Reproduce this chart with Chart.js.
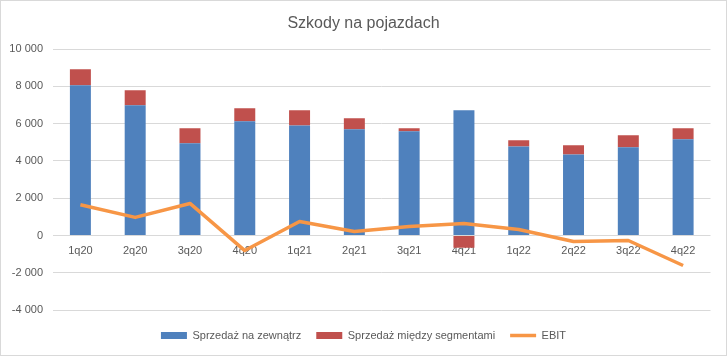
<!DOCTYPE html>
<html>
<head>
<meta charset="utf-8">
<script src="https://cdn.jsdelivr.net/npm/chart.js@4"></script>
<style>
  html, body { margin: 0; padding: 0; background: #fff; }
  #wrap { width: 727px; height: 356px; box-sizing: border-box; border: 1px solid #d9d9d9; position: relative; }
  #wrap canvas { display: block; }
</style>
</head>
<body>
<div id="wrap"><canvas id="c" width="725" height="354"></canvas></div>
<script>
const categories = ['1q20', '2q20', '3q20', '4q20', '1q21', '2q21', '3q21', '4q21', '1q22', '2q22', '3q22', '4q22'];
const salesExternal = [8060, 6990, 4950, 6130, 5910, 5700, 5590, 6720, 4780, 4350, 4730, 5160];
const salesInterSegment = [860, 810, 800, 700, 810, 590, 160, -660, 330, 490, 650, 590];
const ebit = [1650, 970, 1720, -810, 750, 210, 480, 640, 320, -320, -270, -1610];
const yTicks = [-4000, -2000, 0, 2000, 4000, 6000, 8000, 10000];

const textColor = '#595959';
const font = 'Liberation Sans, Arial, sans-serif';

function fmt(v) {
  const s = Math.abs(v).toString().replace(/\B(?=(\d{3})+(?!\d))/g, ' ');
  return (v < 0 ? '-' : '') + s;
}

new Chart(document.getElementById('c'), {
  type: 'bar',
  data: {
    labels: categories,
    datasets: [
      { label: 'Sprzedaż na zewnątrz', data: salesExternal, backgroundColor: '#4f81bd', borderWidth: 0,
        stack: 's', categoryPercentage: 1, barPercentage: 0.383, pointStyle: 'rect', order: 1 },
      { label: 'Sprzedaż między segmentami', data: salesInterSegment, backgroundColor: '#c0504d', borderWidth: 0,
        stack: 's', categoryPercentage: 1, barPercentage: 0.383, pointStyle: 'rect', order: 1 },
      { label: 'EBIT', type: 'line', data: ebit, borderColor: '#f79646', backgroundColor: '#f79646',
        borderWidth: 3.5, borderJoinStyle: 'round', pointRadius: 0, tension: 0, pointStyle: 'line', order: -1, fill: false }
    ]
  },
  options: {
    responsive: false,
    animation: false,
    devicePixelRatio: 1,
    layout: { padding: { left: 0, right: 0, top: 0, bottom: 4 } },
    plugins: {
      title: {
        display: true, text: 'Szkody na pojazdach', color: textColor,
        font: { family: font, size: 16, weight: 'normal' },
        padding: { top: 13, bottom: 16 }
      },
      legend: {
        position: 'bottom',
        title: { display: true, text: '', font: { family: font, size: 5, lineHeight: 1 }, padding: 0 },
        labels: {
          color: textColor, font: { family: font, size: 11 },
          usePointStyle: true, pointStyleWidth: 26, boxHeight: 7, padding: 15,
          sort: (a, b) => a.datasetIndex - b.datasetIndex
        }
      },
      tooltip: { enabled: false }
    },
    scales: {
      x: {
        position: { y: 0 },
        stacked: true,
        afterFit: (scale) => { scale.height = 0; scale.paddingRight = 15.5; },
        grid: { display: false, drawTicks: false },
        border: { display: false },
        ticks: { color: textColor, font: { family: font, size: 11 }, padding: 9, maxRotation: 0 }
      },
      y: {
        stacked: true,
        min: -4000, max: 10000,
        afterBuildTicks: (scale) => { scale.ticks = yTicks.map(v => ({ value: v })); },
        afterFit: (scale) => { scale.width = 52; },
        grid: { color: '#d9d9d9', lineWidth: 1, drawTicks: false },
        border: { display: false },
        ticks: { color: textColor, font: { family: font, size: 11 }, padding: 10, callback: (v) => fmt(v) }
      }
    }
  }
});
</script>
</body>
</html>
